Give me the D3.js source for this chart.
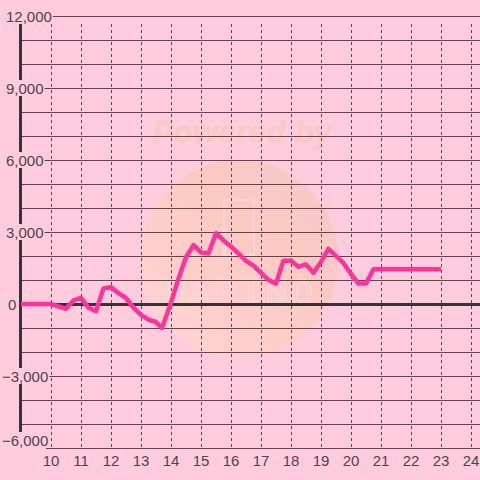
<!DOCTYPE html>
<html><head><meta charset="utf-8">
<script src="https://cdn.jsdelivr.net/npm/d3@7"></script>
<style>html,body{margin:0;padding:0;background:#ffccdd;}svg{display:block;}</style>
</head><body>
<script>
const hours = [9.0,10.0,10.5,10.75,11.0,11.25,11.5,11.75,12.0,12.25,12.5,12.75,13.0,13.25,13.5,13.7,14.0,14.25,14.5,14.75,15.0,15.25,15.5,15.75,16.0,16.25,16.5,16.75,17.0,17.25,17.5,17.75,18.0,18.25,18.5,18.75,19.0,19.25,19.5,19.75,20.0,20.25,20.5,20.75,23.0];
const values = [0,0,-200,150,250,-150,-300,650,700,450,250,-150,-450,-650,-750,-1000,50,1050,1950,2450,2150,2100,2950,2650,2400,2100,1800,1600,1300,1000,850,1800,1800,1550,1650,1300,1750,2300,2000,1700,1250,850,850,1450,1450];
const xTicks = [10,11,12,13,14,15,16,17,18,19,20,21,22,23,24];
const yTicks = [12000,9000,6000,3000,0,-3000,-6000];
const yGrid = [11000,10000,8000,7000,5000,4000,2000,1000,-1000,-2000,-4000,-5000];

const W = 480, H = 480, BG = "#ffccdd";
const svg = d3.select("body").append("svg").attr("width", W).attr("height", H);
svg.append("rect").attr("width", W).attr("height", H).attr("fill", BG);

const x = d3.scaleLinear().domain([9, 24]).range([21, 471]);
const y = d3.scaleLinear().domain([-6000, 12000]).range([448, 16]);

// watermark
const defs = svg.append("defs");
const lg = defs.append("linearGradient").attr("id","wm").attr("x1","0%").attr("y1","100%").attr("x2","100%").attr("y2","0%");
lg.append("stop").attr("offset","0%").attr("stop-color","#ffd8d0");
lg.append("stop").attr("offset","60%").attr("stop-color","#fcc9bc");
lg.append("stop").attr("offset","100%").attr("stop-color","#f0c6c4");
svg.append("circle").attr("cx", 239).attr("cy", 259).attr("r", 99).attr("fill","url(#wm)").attr("opacity",0.8);
svg.append("rect").attr("x",224).attr("y",200).attr("width",30).attr("height",55).attr("fill","none").attr("stroke","#fcd6e0").attr("stroke-width",1.5);
svg.append("text").attr("x", 242).attr("y", 143).attr("text-anchor","middle")
  .attr("font-family","Liberation Sans, Arial, sans-serif").attr("font-weight","bold").attr("font-style","italic")
  .attr("font-size", 32).attr("fill","#f9c9c4").text("Powered by");
svg.append("text").attr("x", 240).attr("y", 305).attr("text-anchor","middle")
  .attr("font-family","DejaVu Sans Mono, monospace").attr("font-size", 36).attr("letter-spacing", 4)
  .attr("fill","none").attr("stroke","#fcd6e0").attr("stroke-width",1.2).text("PAPINO");

const gridColor = "#5e4453";
// horizontal grid lines
svg.append("g").selectAll("line").data(yGrid.concat(yTicks.filter(v => v !== 0 && v !== -6000))).join("line")
  .attr("x1", 21).attr("x2", W).attr("y1", d => Math.round(y(d)) + 0.5).attr("y2", d => Math.round(y(d)) + 0.5)
  .attr("stroke", gridColor).attr("stroke-width", 1);
// bottom axis line
svg.append("line").attr("x1", 46).attr("x2", W).attr("y1", y(-6000) + 0.5).attr("y2", y(-6000) + 0.5)
  .attr("stroke", gridColor).attr("stroke-width", 1);
// vertical dashed lines
svg.append("g").selectAll("line").data(xTicks).join("line")
  .attr("x1", d => Math.round(x(d)) + 0.5).attr("x2", d => Math.round(x(d)) + 0.5)
  .attr("y1", y(12000) + 8).attr("y2", y(-6000))
  .attr("stroke", gridColor).attr("stroke-width", 1).attr("stroke-dasharray", "3,3");
// zero line
svg.append("line").attr("x1", 20).attr("x2", W).attr("y1", y(0) + 0.5).attr("y2", y(0) + 0.5)
  .attr("stroke", "#3a3035").attr("stroke-width", 3);
// vertical axis line
svg.append("line").attr("x1", 20.5).attr("x2", 20.5).attr("y1", y(12000)).attr("y2", y(-6000) - 12)
  .attr("stroke", "#3a3035").attr("stroke-width", 3);

// y labels with background
const fontFam = "Liberation Sans, Arial, sans-serif";
const fmt = d3.format(",");
const yl = svg.append("g");
yTicks.forEach(v => {
  const cy = v === -6000 ? y(v) - 8 : y(v);
  const t = yl.append("text").attr("font-family", fontFam).attr("font-size", 15).attr("fill", "#4d4548")
    .attr("y", cy + 6).text(fmt(v));
  const w = t.node().getComputedTextLength();
  let sx;
  if (v === 0) sx = 8; else sx = Math.max(43 - w, v > 0 ? 6 : 2);
  if (v === 12000) sx = 6;
  t.attr("x", sx);
  if (v !== 0) {
    yl.insert("rect", () => t.node()).attr("x", sx - 1).attr("y", cy - 8).attr("width", w + 2).attr("height", 16).attr("fill", BG);
  }
});

// x labels
svg.append("g").selectAll("text").data(xTicks).join("text")
  .attr("x", d => x(d)).attr("y", 466).attr("text-anchor", "middle")
  .attr("font-family", fontFam).attr("font-size", 15).attr("fill", "#4d4548").text(d => d);

// data line
const pts = hours.map((h, i) => [h, values[i]]);
svg.append("path").datum(pts)
  .attr("d", d3.line().x(d => x(d[0])).y(d => y(d[1])))
  .attr("fill", "none").attr("stroke", "#ff3399").attr("stroke-width", 4.5)
  .attr("stroke-linejoin", "round").attr("stroke-linecap", "butt");
</script>
</body></html>
